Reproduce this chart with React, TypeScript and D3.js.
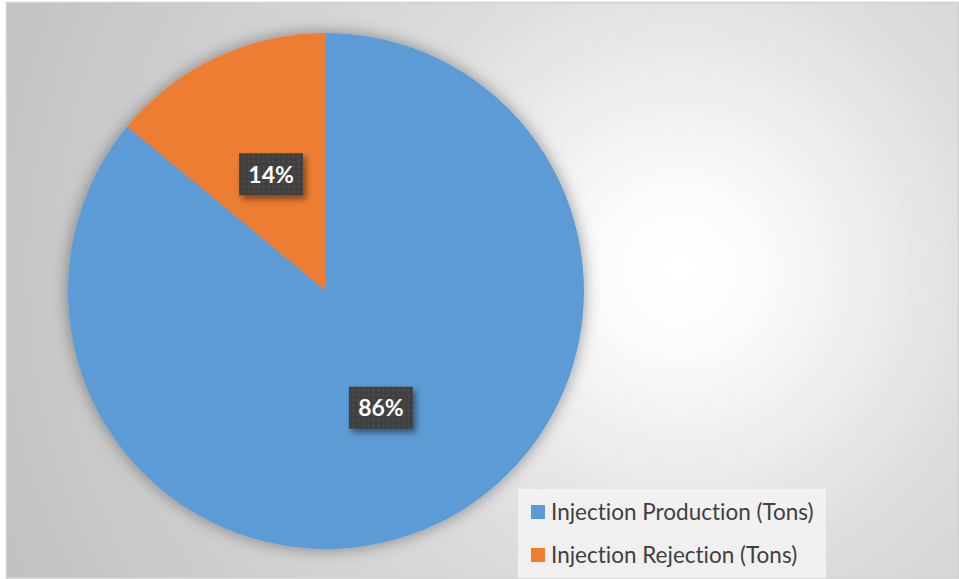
import React, { useEffect, useRef } from "react";
import * as d3 from "d3";

const categories = ["Injection Production (Tons)", "Injection Rejection (Tons)"];
const values = [86, 14];
const colors = ["#5B9BD5", "#ED7D31"];

const W = 959;
const H = 579;

export default function App() {
  const ref = useRef<SVGSVGElement | null>(null);

  useEffect(() => {
    document.body.style.margin = "0";
    const svg = d3.select(ref.current);
    svg.selectAll("*").remove();

    const defs = svg.append("defs");
    const bg = defs
      .append("radialGradient")
      .attr("id", "bg")
      .attr("gradientUnits", "userSpaceOnUse")
      .attr("cx", 680)
      .attr("cy", 270)
      .attr("r", 720);
    bg.append("stop").attr("offset", "0%").attr("stop-color", "#ffffff");
    bg.append("stop").attr("offset", "10%").attr("stop-color", "#fcfcfc");
    bg.append("stop").attr("offset", "45%").attr("stop-color", "#dcdcdc");
    bg.append("stop").attr("offset", "100%").attr("stop-color", "#c2c2c2");

    const shadow = defs.append("filter").attr("id", "pieShadow").attr("x", "-20%").attr("y", "-20%").attr("width", "140%").attr("height", "140%");
    shadow.append("feDropShadow").attr("dx", 0).attr("dy", 0).attr("stdDeviation", 8).attr("flood-color", "#000").attr("flood-opacity", 0.4);

    const lblShadow = defs.append("filter").attr("id", "lblShadow").attr("x", "-30%").attr("y", "-30%").attr("width", "160%").attr("height", "170%");
    lblShadow.append("feDropShadow").attr("dx", 3).attr("dy", 4).attr("stdDeviation", 3).attr("flood-color", "#000").attr("flood-opacity", 0.45);

    const pat = defs.append("pattern").attr("id", "dots").attr("patternUnits", "userSpaceOnUse").attr("width", 5).attr("height", 5);
    pat.append("rect").attr("width", 5).attr("height", 5).attr("fill", "#404040");
    pat.append("circle").attr("cx", 2.5).attr("cy", 2.5).attr("r", 0.9).attr("fill", "#565656");

    svg.append("rect")
      .attr("x", 6.5).attr("y", 2.5).attr("width", 952).attr("height", 575.5)
      .attr("fill", "url(#bg)").attr("stroke", "#d0d0d0").attr("stroke-width", 1.5);

    const cx = 326, cy = 291, R = 258;
    const pie = d3.pie<number>().sort(null).value((d) => d);
    const arcs = pie(values);
    const arc = d3.arc<d3.PieArcDatum<number>>().innerRadius(0).outerRadius(R);
    const labelArc = d3.arc<d3.PieArcDatum<number>>().innerRadius(R * 0.5).outerRadius(R * 0.5);

    const g = svg.append("g").attr("transform", `translate(${cx},${cy})`);
    g.append("g").attr("filter", "url(#pieShadow)")
      .selectAll("path").data(arcs).enter().append("path")
      .attr("d", arc as any)
      .attr("fill", (_d, i) => colors[i]);

    const total = d3.sum(values);
    arcs.forEach((a) => {
      const [lx, ly] = labelArc.centroid(a);
      const lg = g.append("g").attr("transform", `translate(${lx},${ly})`);
      lg.append("rect")
        .attr("x", -32).attr("y", -21).attr("width", 64).attr("height", 42)
        .attr("fill", "url(#dots)").attr("filter", "url(#lblShadow)");
      lg.append("text")
        .attr("text-anchor", "middle").attr("dy", "0.36em")
        .attr("font-family", "Lato, 'Open Sans', sans-serif").attr("font-weight", "bold")
        .attr("font-size", 23).attr("fill", "#ffffff")
        .text(`${Math.round((a.value / total) * 100)}%`);
    });

    const leg = svg.append("g");
    leg.append("rect").attr("x", 518).attr("y", 489).attr("width", 308).attr("height", 89).attr("fill", "#f2f2f2").attr("opacity", 0.9);
    const ly = d3.scalePoint<string>().domain(categories).range([512, 555]);
    categories.forEach((c, i) => {
      const y = ly(c) as number;
      leg.append("rect").attr("x", 531).attr("y", y - 7).attr("width", 14).attr("height", 14).attr("fill", colors[i]);
      leg.append("text")
        .attr("x", 551).attr("y", y).attr("dy", "0.36em")
        .attr("font-family", "Lato, 'Open Sans', sans-serif").attr("font-size", 22.5)
        .style("font-variant-ligatures", "none")
        .attr("fill", "#404040").text(c);
    });
  }, []);

  return <svg ref={ref} width={W} height={H} style={{ display: "block", position: "absolute", left: 0, top: 0 }} />;
}
